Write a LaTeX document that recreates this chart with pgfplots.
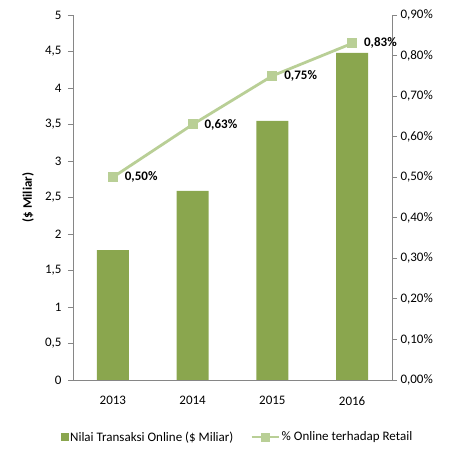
\documentclass[border=0pt]{standalone}
\usepackage{pgfplots}
\pgfplotsset{compat=1.18}
\usepackage{fontspec}
\setmainfont{Carlito}
\definecolor{barcol}{HTML}{8AA64E}
\definecolor{linecol}{HTML}{B9CF96}
\definecolor{axcol}{HTML}{868686}
\newcommand\fs{\fontsize{13}{15}\selectfont}
\pgfplotsset{
  mylineleg/.style={legend image code/.code={\draw[##1,line width=2.2pt,mark repeat=2,mark phase=2,mark size=4pt] plot coordinates {(0pt,0pt)(13.5pt,0pt)(27pt,0pt)};}},
  common/.style={
    scale only axis, width=319pt, height=365pt,
    at={(0,0)}, anchor=south west,
    xmin=-0.5, xmax=3.5,
    font=\fs,
    tick label style={font=\fs, text=black},
    /pgf/number format/assume math mode=true,
    axis line style={draw=axcol, line width=0.8pt},
    tick style={draw=axcol, line width=0.8pt},
    tick align=outside, major tick length=5pt,
    clip=false,
  }
}
\begin{document}
\begin{tikzpicture}
\useasboundingbox (-73pt,-77pt) rectangle (380pt,380pt);
\begin{axis}[common,
  axis y line*=left, axis x line*=bottom,
  ymin=0, ymax=5, ytick={0,0.5,...,5},
  yticklabel style={xshift=-3pt, /pgf/number format/.cd, fixed, use comma},
  xtick={0,1,2,3}, xticklabels={2013,2014,2015,2016},
  x tick style={draw=none},
  xticklabel style={yshift=-8pt},
  extra x ticks={-0.5,0.5,1.5,2.5,3.5}, extra x tick labels={},
  extra x tick style={tick style={draw=axcol, line width=0.8pt}, major tick length=5pt},
  ylabel={\bfseries(\$ Miliar)},
  y label style={at={(axis description cs:-0.141,0.5)}, anchor=center},
]
\addplot[ybar, bar width=32pt, fill=barcol, draw=none] coordinates {(0,1.78) (1,2.59) (2,3.55) (3,4.48)};
\end{axis}
\begin{axis}[common,
  axis y line*=right, axis x line=none,
  ymin=0, ymax=0.9, ytick={0,0.1,...,0.9},
  yticklabel={\pgfmathprintnumber[fixed,fixed zerofill,precision=2,use comma,assume math mode=true]{\tick}\%},
  legend style={draw=none, fill=none, at={(axis description cs:0.5,0)}, anchor=center, yshift=-57pt, xshift=5pt,
    legend columns=2, font=\fs,
    /tikz/every even column/.append style={column sep=15pt}},
]
\addlegendimage{legend image code/.code={\fill[barcol] (0pt,-3.5pt) rectangle (7pt,3.5pt);}}
\addlegendentry{Nilai Transaksi Online (\$ Miliar)}
\addplot[linecol, line width=2.8pt, mark=square*, mark size=4.5pt, mark options={line width=0pt, fill=linecol, draw=linecol},
  nodes near coords={\pgfmathprintnumber[fixed,fixed zerofill,precision=2,use comma,assume math mode=true]{\pgfplotspointmeta}\%},
  every node near coord/.append style={anchor=west, inner sep=0pt, xshift=12pt, text=black, font=\fs\bfseries},
  mylineleg
] coordinates {(0,0.50) (1,0.63) (2,0.75) (3,0.83)};
\addlegendentry{\% Online terhadap Retail}
\end{axis}
\end{tikzpicture}
\end{document}
